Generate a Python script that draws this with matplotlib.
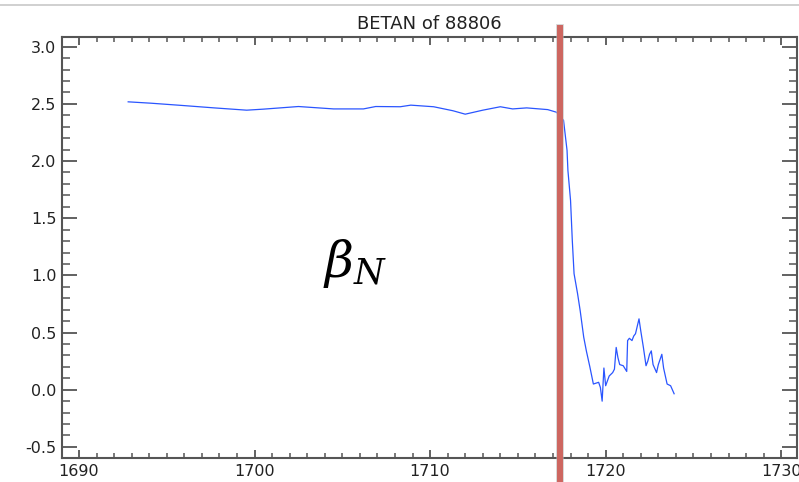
import numpy as np
import matplotlib.pyplot as plt
from matplotlib.ticker import MultipleLocator
from matplotlib.lines import Line2D

# BETAN trace for shot 88806
time = [1692.8, 1694.1, 1695.9, 1697.7, 1699.55, 1700.5, 1702.5, 1704.5, 1706.2,
        1706.9, 1708.3, 1708.9, 1710.2, 1711.3, 1712.0, 1713.0, 1714.0, 1714.7,
        1715.5, 1716.7, 1717.2, 1717.6, 1717.8, 1717.85, 1718.0, 1718.1, 1718.2,
        1718.4, 1718.55, 1718.75, 1718.9, 1719.1, 1719.3, 1719.6, 1719.7, 1719.8,
        1719.9, 1720.0, 1720.2, 1720.4, 1720.5, 1720.6, 1720.7, 1720.8, 1721.0,
        1721.2, 1721.25, 1721.35, 1721.5, 1721.6, 1721.7, 1721.9, 1722.0, 1722.15,
        1722.3, 1722.4, 1722.5, 1722.6, 1722.7, 1722.9, 1723.0, 1723.2, 1723.3,
        1723.5, 1723.7, 1723.9]
betan = [2.518, 2.506, 2.486, 2.465, 2.445, 2.454, 2.477, 2.456, 2.456,
         2.477, 2.475, 2.489, 2.475, 2.44, 2.41, 2.445, 2.475, 2.456,
         2.465, 2.45, 2.427, 2.357, 2.094, 1.918, 1.655, 1.304, 1.015,
         0.84, 0.69, 0.46, 0.34, 0.20, 0.05, 0.065, 0.02, -0.10,
         0.19, 0.035, 0.12, 0.15, 0.18, 0.37, 0.28, 0.22, 0.21,
         0.16, 0.43, 0.45, 0.43, 0.47, 0.49, 0.62, 0.515, 0.37,
         0.21, 0.25, 0.31, 0.34, 0.22, 0.15, 0.22, 0.31, 0.19,
         0.05, 0.035, -0.035]
event_time = 1717.4
title = 'BETAN of 88806'

fig = plt.figure(figsize=(7.99, 4.82), dpi=100)
ax = fig.add_axes([62 / 799, 24 / 482, 735 / 799, 421 / 482])

ax.plot(time, betan, color='#2a55ff', lw=0.9)

ax.set_xlim(1689.03, 1730.9)
ax.set_ylim(-0.597, 3.085)
ax.xaxis.set_major_locator(MultipleLocator(10))
ax.xaxis.set_minor_locator(MultipleLocator(1))
ax.yaxis.set_major_locator(MultipleLocator(0.5))
ax.yaxis.set_minor_locator(MultipleLocator(0.1))
ax.xaxis.set_major_formatter(plt.FormatStrFormatter('%d'))
ax.yaxis.set_major_formatter(plt.FormatStrFormatter('%.1f'))

spine_c = '#555555'
for s in ax.spines.values():
    s.set_color(spine_c)
    s.set_linewidth(1.5)
ax.tick_params(axis='y', which='major', direction='in', length=10.5, width=1.3,
               color=spine_c, left=True, right=True, labelsize=11.5,
               labelcolor='#222222', pad=4)
ax.tick_params(axis='y', which='minor', direction='in', length=5.8, width=1.1,
               color=spine_c, left=True, right=True)
ax.tick_params(axis='x', which='major', direction='in', length=6, width=1.3,
               color=spine_c, top=True, bottom=True, labelsize=11.5,
               labelcolor='#222222', pad=4)
ax.tick_params(axis='x', which='minor', direction='in', length=3.3, width=1.1,
               color=spine_c, top=True, bottom=True)

ax.set_title(title, fontsize=13, color='#222222', pad=6)

# event marker drawn past the frame
trans = ax.get_xaxis_transform()
ax.plot([event_time, event_time], [1.021, -0.1], transform=trans,
        color='#b8b8b8', lw=5.6, alpha=0.6, clip_on=False, zorder=4)
ax.plot([event_time, event_time], [1.021, -0.1], transform=trans,
        color='#cd6660', lw=4.3, clip_on=False, zorder=5)

ax.text(1705.7, 1.1, r'$\beta_N$', fontsize=36, ha='center', va='center',
        math_fontfamily='dejavuserif')

fig.add_artist(Line2D([0, 1], [1 - 5 / 482, 1 - 5 / 482], color='#c8c8c8',
                      lw=1.2, transform=fig.transFigure))

fig.savefig('out.png', dpi=100)
